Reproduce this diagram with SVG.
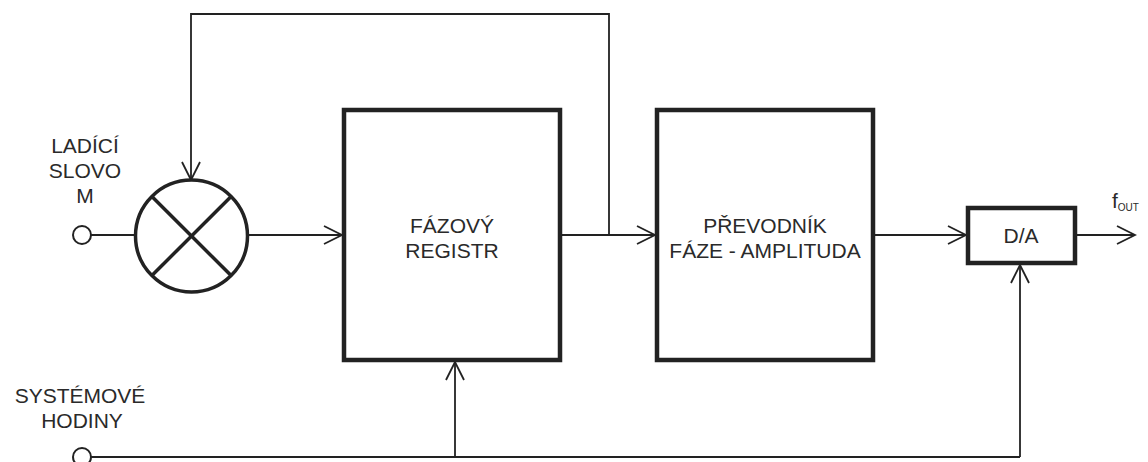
<svg xmlns="http://www.w3.org/2000/svg" width="1148" height="462" viewBox="0 0 1148 462">
<style>
.ln{fill:none;stroke:#222;stroke-width:1.8}
.box{fill:#fff;stroke:#222;stroke-width:4.5}
.t{font-family:"Liberation Sans",Arial,sans-serif;font-size:21px;fill:#2a2a2a;text-anchor:middle}
</style>
<defs>
<marker id="arr" markerUnits="userSpaceOnUse" markerWidth="22" markerHeight="22" viewBox="0 0 22 22" refX="20" refY="11" orient="auto">
<path d="M2,2 L20,11 L2,20" fill="none" stroke="#222" stroke-width="1.8"/>
</marker>
</defs>
<g id="connectors">
<line class="ln" x1="91" y1="235" x2="135" y2="235"/>
<line class="ln" x1="248" y1="235" x2="342" y2="235" marker-end="url(#arr)"/>
<line class="ln" x1="562" y1="235" x2="655" y2="235" marker-end="url(#arr)"/>
<polyline class="ln" points="609,235 609,14 191,14 191,180" marker-end="url(#arr)"/>
<line class="ln" x1="875" y1="235" x2="966" y2="235" marker-end="url(#arr)"/>
<line class="ln" x1="1077" y1="235" x2="1135" y2="235" marker-end="url(#arr)"/>
<line class="ln" x1="91" y1="457" x2="1020" y2="457"/>
<line class="ln" x1="455" y1="457" x2="455" y2="362" marker-end="url(#arr)"/>
<line class="ln" x1="1020" y1="457" x2="1020" y2="265" marker-end="url(#arr)"/>
</g>
<g id="in-ladici">
<circle cx="82" cy="235" r="9" fill="#fff" stroke="#222" stroke-width="2"/>
<text class="t" x="85" y="153">LADÍCÍ</text>
<text class="t" x="85" y="178">SLOVO</text>
<text class="t" x="85" y="203">M</text>
</g>
<g id="mixer">
<circle cx="191.5" cy="236" r="56" fill="#fff" stroke="#222" stroke-width="3.5"/>
<line x1="151.9" y1="196.4" x2="231.1" y2="275.6" stroke="#222" stroke-width="3.5"/>
<line x1="231.1" y1="196.4" x2="151.9" y2="275.6" stroke="#222" stroke-width="3.5"/>
</g>
<g id="fazovy-registr">
<rect class="box" x="344" y="110" width="216" height="250"/>
<text class="t" x="452" y="233">FÁZOVÝ</text>
<text class="t" x="452" y="258">REGISTR</text>
</g>
<g id="prevodnik">
<rect class="box" x="657" y="110" width="216" height="250"/>
<text class="t" x="765" y="233">PŘEVODNÍK</text>
<text class="t" x="765" y="258">FÁZE - AMPLITUDA</text>
</g>
<g id="da">
<rect class="box" x="968" y="208" width="107" height="55"/>
<text class="t" x="1021" y="243">D/A</text>
</g>
<g id="fout">
<text x="1112" y="208" font-family="Liberation Sans,Arial,sans-serif" font-size="21" fill="#2a2a2a">f<tspan font-size="10" dy="3">OUT</tspan></text>
</g>
<g id="in-hodiny">
<circle cx="82" cy="457" r="9" fill="#fff" stroke="#222" stroke-width="2"/>
<text class="t" x="80" y="403">SYSTÉMOVÉ</text>
<text class="t" x="82" y="428">HODINY</text>
</g>
</svg>
